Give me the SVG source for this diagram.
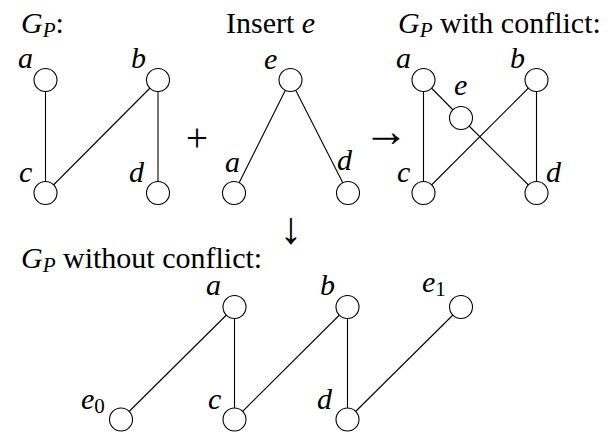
<svg xmlns="http://www.w3.org/2000/svg" width="614" height="433" viewBox="0 0 614 433">
<style>
text{font-family:"Liberation Serif","Times New Roman",serif;font-size:30px;fill:#000}
.i{font-style:italic}
.s{font-size:21px}
.ar{font-size:45px}
.e line{stroke:#000;stroke-width:1.1}
.n circle{fill:#fff;stroke:#000;stroke-width:1.1}
</style>
<rect width="614" height="433" fill="#fff"/>
<g id="titles">
<text x="21" y="33"><tspan class="i">G</tspan><tspan class="i s" dy="4">P</tspan><tspan dy="-4">:</tspan></text>
<text x="226" y="33">Insert <tspan class="i">e</tspan></text>
<text x="398" y="33"><tspan class="i">G</tspan><tspan class="i s" dy="4">P</tspan><tspan dy="-4"> with conflict:</tspan></text>
<text x="21" y="268"><tspan class="i">G</tspan><tspan class="i s" dy="4">P</tspan><tspan dy="-4"> without conflict:</tspan></text>
<text x="197" y="151" text-anchor="middle" style="font-size:39px">+</text>
<text class="ar" x="386" y="146" text-anchor="middle">→</text>
<text class="ar" x="291" y="243" text-anchor="middle">↓</text>
</g>
<g id="connectors" class="e">
<line x1="45.5" y1="80" x2="45.5" y2="193"/>
<line x1="158" y1="80" x2="45.5" y2="193"/>
<line x1="158" y1="80" x2="158" y2="193"/>
<line x1="290.5" y1="80" x2="234" y2="193"/>
<line x1="290.5" y1="80" x2="348" y2="193"/>
<line x1="423.5" y1="80" x2="423.5" y2="193"/>
<line x1="423.5" y1="80" x2="461" y2="118"/>
<line x1="461" y1="118" x2="536.5" y2="193"/>
<line x1="536.5" y1="80" x2="423.5" y2="193"/>
<line x1="536.5" y1="80" x2="536.5" y2="193"/>
<line x1="234.5" y1="307" x2="121" y2="419.5"/>
<line x1="234.5" y1="307" x2="234.5" y2="419.5"/>
<line x1="347.5" y1="307" x2="234.5" y2="419.5"/>
<line x1="347.5" y1="307" x2="347.5" y2="419.5"/>
<line x1="461" y1="307" x2="347.5" y2="419.5"/>
</g>
<g class="n">
<g id="g1-a"><circle cx="45.5" cy="80" r="11.5"/><text class="i" x="18" y="68">a</text></g>
<g id="g1-b"><circle cx="158" cy="80" r="11.5"/><text class="i" x="131" y="68">b</text></g>
<g id="g1-c"><circle cx="45.5" cy="193" r="11.5"/><text class="i" x="19" y="182">c</text></g>
<g id="g1-d"><circle cx="158" cy="193" r="11.5"/><text class="i" x="129" y="182">d</text></g>
<g id="g2-e"><circle cx="290.5" cy="80" r="11.5"/><text class="i" x="264" y="69">e</text></g>
<g id="g2-a"><circle cx="234" cy="193" r="11.5"/><text class="i" x="225" y="172">a</text></g>
<g id="g2-d"><circle cx="348" cy="193" r="11.5"/><text class="i" x="337" y="170">d</text></g>
<g id="g3-a"><circle cx="423.5" cy="80" r="11.5"/><text class="i" x="396" y="68">a</text></g>
<g id="g3-b"><circle cx="536.5" cy="80" r="11.5"/><text class="i" x="510" y="68">b</text></g>
<g id="g3-e"><circle cx="461" cy="118" r="11.5"/><text class="i" x="454" y="95">e</text></g>
<g id="g3-c"><circle cx="423.5" cy="193" r="11.5"/><text class="i" x="397" y="182">c</text></g>
<g id="g3-d"><circle cx="536.5" cy="193" r="11.5"/><text class="i" x="546" y="182">d</text></g>
<g id="g4-a"><circle cx="234.5" cy="307" r="11.5"/><text class="i" x="206" y="295">a</text></g>
<g id="g4-b"><circle cx="347.5" cy="307" r="11.5"/><text class="i" x="320" y="295">b</text></g>
<g id="g4-e1"><circle cx="461" cy="307" r="11.5"/><text class="i" x="422" y="292">e<tspan class="s" style="font-style:normal" dy="4">1</tspan></text></g>
<g id="g4-e0"><circle cx="121" cy="419.5" r="11.5"/><text class="i" x="81" y="409">e<tspan class="s" style="font-style:normal" dy="4">0</tspan></text></g>
<g id="g4-c"><circle cx="234.5" cy="419.5" r="11.5"/><text class="i" x="208" y="409">c</text></g>
<g id="g4-d"><circle cx="347.5" cy="419.5" r="11.5"/><text class="i" x="317" y="409">d</text></g>
</g>
</svg>
